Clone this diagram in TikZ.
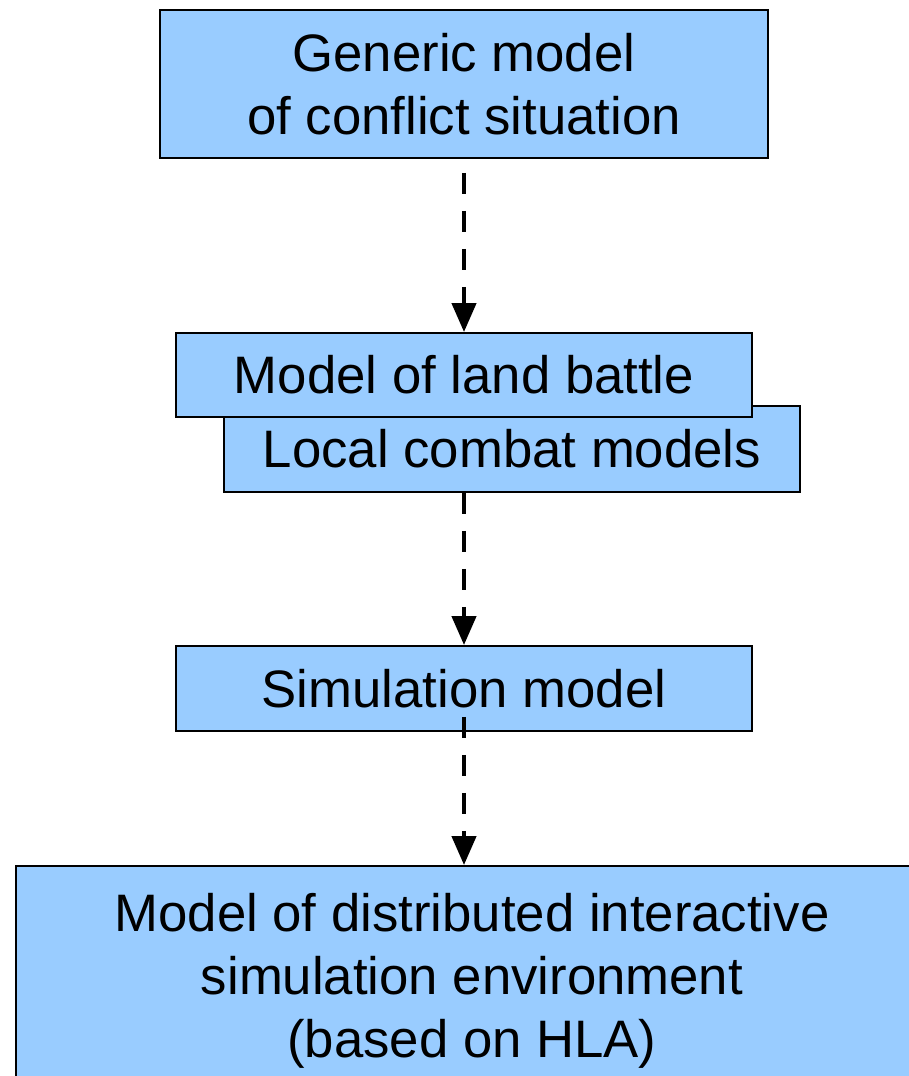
\documentclass[tikz,border=0pt]{standalone}
\usepackage{fontspec}
\setmainfont{Liberation Sans}
\usetikzlibrary{arrows.meta}
\definecolor{boxblue}{RGB}{153,204,255}

\begin{document}
\begin{tikzpicture}[>={Triangle[width=0.48cm,length=0.58cm]},
    stage/.style={draw=black,line width=1.1pt,fill=boxblue,align=center,inner sep=0pt,
        font=\fontsize{30}{35.7}\selectfont},
    flow/.style={->,line width=2.5pt,dash pattern=on 0.42cm off 0.34cm}]
    % page size (same proportions as the slide)
    \useasboundingbox (0,0) rectangle (18.18,-21.52);

    % model stages, top to bottom
    \node[stage,minimum width=12.16cm,minimum height=2.96cm] (generic) at (9.28,-1.68)
        {Generic model\\of conflict situation};
    \node[stage,minimum width=11.52cm,minimum height=1.72cm] (local) at (10.24,-8.98)
        {Local combat models};
    \node[stage,minimum width=11.52cm,minimum height=1.68cm] (land) at (9.28,-7.5)
        {Model of land battle};
    \node[stage,minimum width=11.52cm,minimum height=1.7cm] (sim) at (9.28,-13.77)
        {Simulation model};
    \node[stage,minimum width=18.24cm,minimum height=4.6cm] (env) at (9.44,-19.62)
        {Model of distributed interactive\\simulation environment\\(based on HLA)};

    % dashed refinement arrows
    \draw[flow] ([yshift=-0.28cm]generic.south) -- (land.north);
    \draw[flow] (land.south |- local.south) -- (sim.north);
    \draw[flow] ([yshift=0.3cm]sim.south) -- (sim.south |- env.north);
\end{tikzpicture}
\end{document}
